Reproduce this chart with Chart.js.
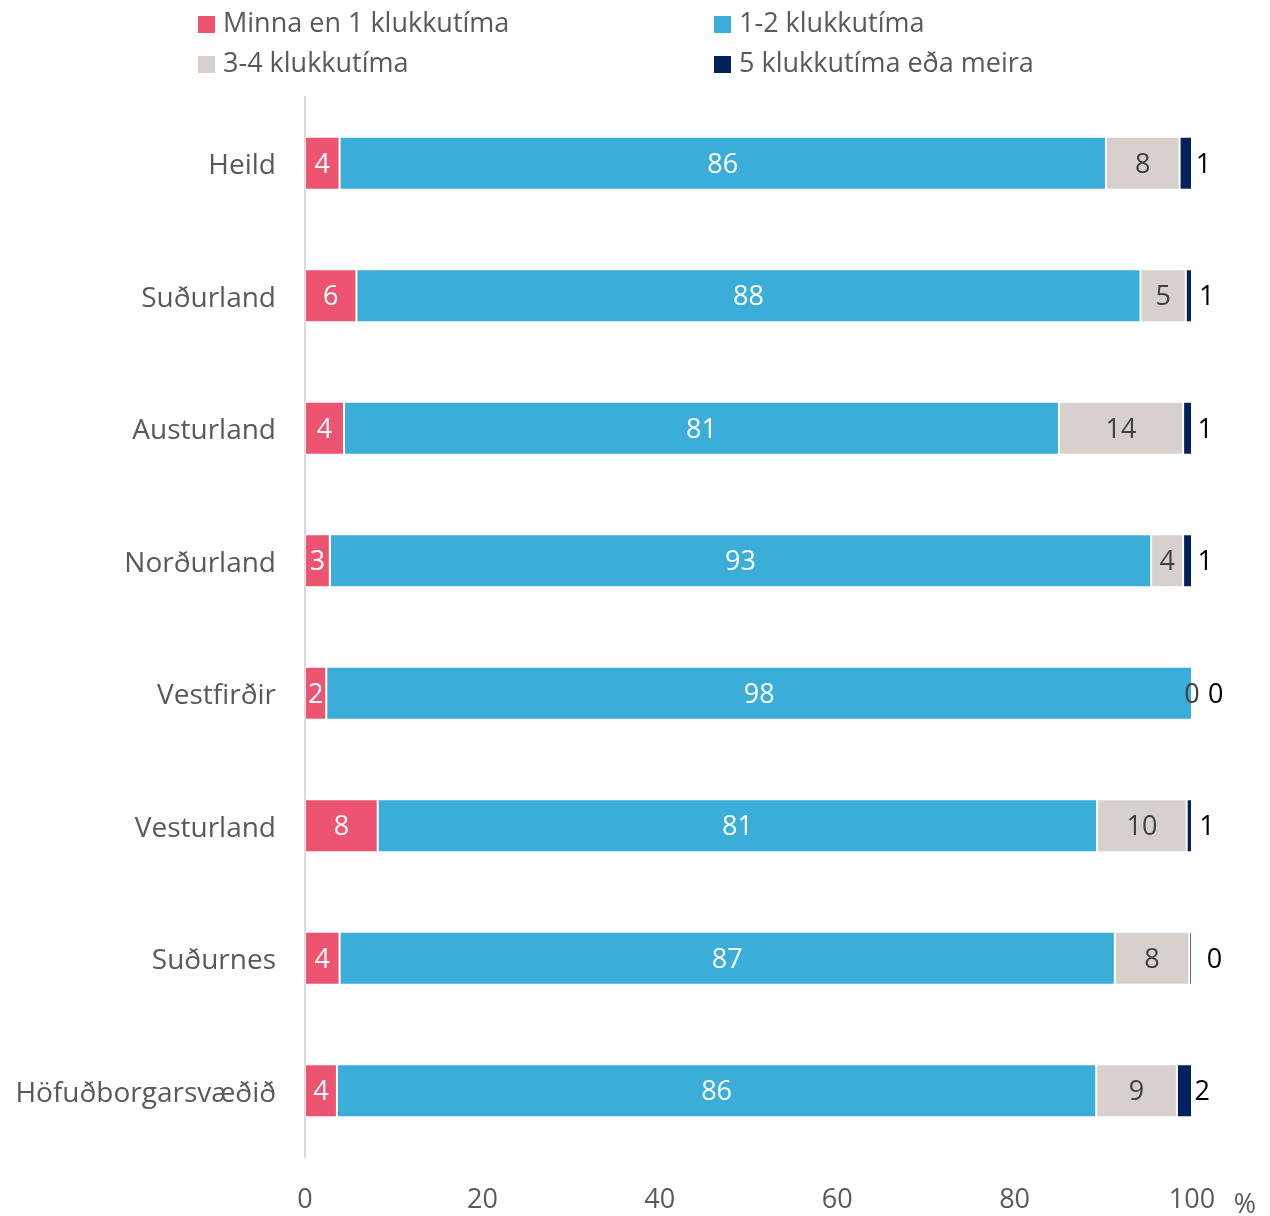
<!DOCTYPE html>
<html lang="is">
<head>
    <meta charset="UTF-8">
    <title>Klukkutímar</title>
    <style>
        body {
            margin: 0;
            padding: 0;
            background: #fff;
            font-family: "Open Sans", sans-serif;
        }

        .wrap {
            position: relative;
            width: 1270px;
            height: 1216px;
        }

        .legend {
            position: absolute;
            top: 0;
            left: 0;
            width: 1270px;
            height: 90px;
        }

        .legend .item {
            position: absolute;
            font-size: 27px;
            color: #595959;
            line-height: 40px;
            white-space: nowrap;
        }

        .legend .box {
            display: inline-block;
            width: 17px;
            height: 17px;
            margin-right: 8px;
            vertical-align: -1px;
        }

        canvas {
            display: block;
        }
    </style>
</head>
<body>
    <div class="wrap">
        <canvas id="myChart" width="1270" height="1216"></canvas>
        <div class="legend" id="legend"></div>
    </div>

    <script src="https://cdn.jsdelivr.net/npm/chart.js"></script>
    <script>
        // svæði
        var categories = ['Heild', 'Suðurland', 'Austurland', 'Norðurland', 'Vestfirðir', 'Vesturland', 'Suðurnes', 'Höfuðborgarsvæðið'];

        // hlutfall (%) - lesið af myndinni
        var minnaEn1 = [3.9, 5.8, 4.4, 2.8, 2.4, 8.2, 3.9, 3.6];
        var klst1til2 = [86.4, 88.4, 80.6, 92.6, 97.6, 81.1, 87.4, 85.6];
        var klst3til4 = [8.3, 5.1, 14.0, 3.6, 0, 10.1, 8.4, 9.1];
        var klst5 = [1.4, 0.7, 1.0, 1.0, 0, 0.6, 0.3, 1.7];

        var seriesNames = ['Minna en 1 klukkutíma', '1-2 klukkutíma', '3-4 klukkutíma', '5 klukkutíma eða meira'];
        var xTicks = [0, 20, 40, 60, 80, 100];

        var colors = ['#EC5472', '#3BADD9', '#D8D0CD', '#03215F'];
        var labelColors = ['#ffffff', '#ffffff', '#404040', '#000000'];

        // legend, 2 dálkar
        var legendPos = [[198, 2], [714, 2], [198, 42], [714, 42]];
        var legendEl = document.getElementById('legend');
        seriesNames.forEach(function (name, i) {
            var d = document.createElement('div');
            d.className = 'item';
            d.style.left = legendPos[i][0] + 'px';
            d.style.top = legendPos[i][1] + 'px';
            d.innerHTML = '<span class="box" style="background:' + colors[i] + '"></span>' + name;
            legendEl.appendChild(d);
        });

        var barLabels = {
            id: 'barLabels',
            afterDatasetsDraw: function (chart) {
                var ctx = chart.ctx;
                ctx.save();
                ctx.font = '27px "Open Sans", sans-serif';
                ctx.textBaseline = 'middle';
                chart.data.datasets.forEach(function (ds, di) {
                    var meta = chart.getDatasetMeta(di);
                    meta.data.forEach(function (bar, i) {
                        var txt = String(Math.round(ds.data[i]));
                        var left = Math.min(bar.x, bar.base);
                        var right = Math.max(bar.x, bar.base);
                        var mid = (left + right) / 2;
                        ctx.fillStyle = labelColors[di];
                        if (di === 3) {
                            ctx.textAlign = 'left';
                            ctx.fillText(txt, mid + (txt === '0' ? 16 : 10), bar.y + 2);
                        } else {
                            ctx.textAlign = 'center';
                            ctx.fillText(txt, mid, bar.y + 2);
                        }
                    });
                });
                // % merki
                ctx.fillStyle = '#595959';
                ctx.textAlign = 'center';
                ctx.fillText('%', 1245, 1205);
                ctx.restore();
            }
        };

        var datasets = [minnaEn1, klst1til2, klst3til4, klst5].map(function (vals, i) {
            return {
                label: seriesNames[i],
                data: vals,
                backgroundColor: colors[i],
                borderColor: 'rgba(255,255,255,0.5)',
                borderWidth: 1,
                borderSkipped: false,
                barPercentage: 0.4,
                categoryPercentage: 1
            };
        });

        var ctx = document.getElementById('myChart').getContext('2d');
        var myChart = new Chart(ctx, {
            type: 'bar',
            data: {
                labels: categories,
                datasets: datasets
            },
            plugins: [barLabels],
            options: {
                indexAxis: 'y',
                responsive: false,
                animation: false,
                layout: {
                    padding: { top: 97, right: 78, bottom: 0, left: 0 }
                },
                plugins: {
                    legend: { display: false },
                    tooltip: { enabled: false }
                },
                scales: {
                    x: {
                        stacked: true,
                        min: 0,
                        max: 100,
                        afterBuildTicks: function (scale) {
                            scale.ticks = xTicks.map(function (v) { return { value: v }; });
                        },
                        afterFit: function (scale) {
                            scale.height = 59;
                        },
                        grid: { display: false },
                        border: { display: false },
                        ticks: {
                            color: '#595959',
                            font: { family: '"Open Sans", sans-serif', size: 27 },
                            padding: 19
                        }
                    },
                    y: {
                        stacked: true,
                        afterFit: function (scale) {
                            scale.width = 305;
                        },
                        grid: { display: false },
                        border: { display: true, color: '#D9D9D9', width: 2 },
                        ticks: {
                            color: '#595959',
                            font: { family: '"Open Sans", sans-serif', size: 28 },
                            padding: 21,
                            labelOffset: 3
                        }
                    }
                }
            }
        });
    </script>
</body>
</html>
